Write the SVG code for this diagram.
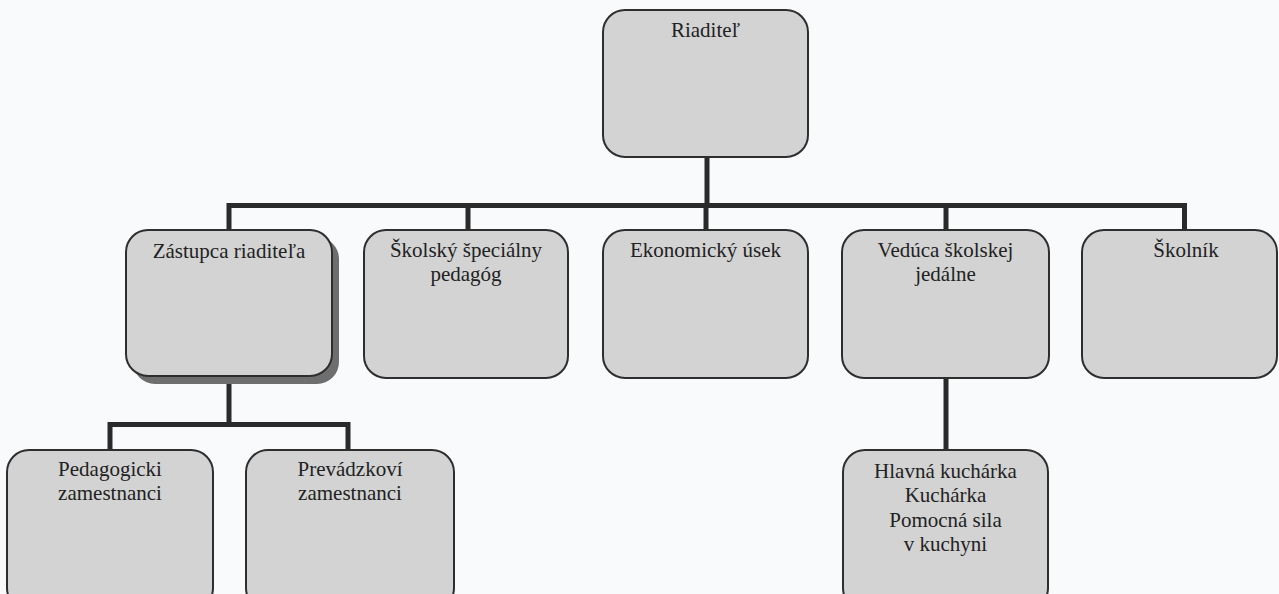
<svg xmlns="http://www.w3.org/2000/svg" width="1279" height="594" viewBox="0 0 1279 594">
<style>
.bg{fill:#f9fafc}
.box{fill:#d3d3d3;stroke:#2e2e2e;stroke-width:2}
.shadow{fill:#6e6e6e}
.conn{stroke:#2a2a2a;stroke-width:5;fill:none;stroke-linecap:square}
text{font-family:"Liberation Serif","Times New Roman",serif;font-size:21px;fill:#222;text-anchor:middle}
</style>
<rect class="bg" x="0" y="0" width="1279" height="594"/>
<g id="connectors">
<path class="conn" d="M707 157 V205.5"/>
<path class="conn" d="M229 230 V205.5 H1184.5 V230"/>
<path class="conn" d="M468 205.5 V230"/>
<path class="conn" d="M706 205.5 V230"/>
<path class="conn" d="M946 205.5 V230"/>
<path class="conn" d="M229 382 V424.5"/>
<path class="conn" d="M110 450 V424.5 H348 V450"/>
<path class="conn" d="M946 378 V450"/>
</g>
<g id="n-riaditel">
<rect class="box" x="603" y="10" width="205" height="147" rx="22"/>
<text x="705.5" y="37">Riaditeľ</text>
</g>
<g id="n-zastupca">
<rect class="shadow" x="133" y="237" width="206" height="147" rx="22"/>
<rect class="box" x="126" y="230" width="206" height="146" rx="22"/>
<text x="229" y="258">Zástupca riaditeľa</text>
</g>
<g id="n-specialny">
<rect class="box" x="364" y="230" width="204" height="148" rx="22"/>
<text x="466" y="257">Školský špeciálny</text>
<text x="466" y="281">pedagóg</text>
</g>
<g id="n-ekonomicky">
<rect class="box" x="603" y="230" width="205" height="148" rx="22"/>
<text x="705.5" y="257">Ekonomický úsek</text>
</g>
<g id="n-veduca">
<rect class="box" x="842" y="230" width="207" height="148" rx="22"/>
<text x="945.5" y="257">Vedúca školskej</text>
<text x="945.5" y="281">jedálne</text>
</g>
<g id="n-skolnik">
<rect class="box" x="1082" y="230" width="195" height="148" rx="22"/>
<text x="1186" y="257">Školník</text>
</g>
<g id="n-pedagogicki">
<rect class="box" x="7" y="450" width="206" height="160" rx="22"/>
<text x="110" y="476">Pedagogicki</text>
<text x="110" y="500">zamestnanci</text>
</g>
<g id="n-prevadzkovi">
<rect class="box" x="246" y="450" width="208" height="160" rx="22"/>
<text x="350" y="476">Prevádzkoví</text>
<text x="350" y="500">zamestnanci</text>
</g>
<g id="n-kuchyna">
<rect class="box" x="843" y="450" width="205" height="160" rx="22"/>
<text x="945.5" y="478">Hlavná kuchárka</text>
<text x="945.5" y="502">Kuchárka</text>
<text x="945.5" y="527">Pomocná sila</text>
<text x="945.5" y="551">v kuchyni</text>
</g>
</svg>
